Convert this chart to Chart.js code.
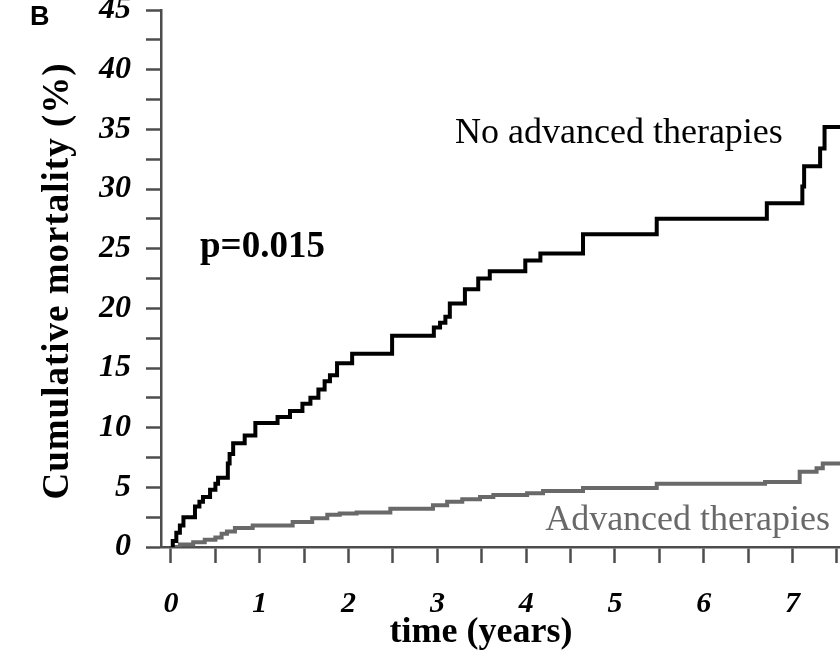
<!DOCTYPE html>
<html>
<head>
<meta charset="utf-8">
<script src="https://cdn.jsdelivr.net/npm/chart.js@4.4.1/dist/chart.umd.min.js"></script>
<style>
  html, body { margin: 0; padding: 0; background: #ffffff; }
  #wrap { width: 840px; height: 667px; }
</style>
</head>
<body>
<div id="wrap"><canvas id="c" width="840" height="667"></canvas></div>
<script>
// ---- Data ----
const noAdvTime = [0, 0.02, 0.06, 0.10, 0.14, 0.27, 0.32, 0.36, 0.44, 0.50, 0.53, 0.64, 0.66, 0.70, 0.83, 0.95,
  1.20, 1.34, 1.48, 1.57, 1.66, 1.73, 1.79, 1.87, 2.04, 2.49, 2.96, 3.03, 3.09, 3.14, 3.31, 3.46, 3.59,
  3.99, 4.16, 4.64, 5.47, 6.71, 7.11, 7.13, 7.31, 7.36, 7.60];
const noAdvMortality = [0, 0.5, 1.2, 1.8, 2.5, 3.4, 3.8, 4.2, 4.8, 5.3, 5.8, 7.0, 7.8, 8.7, 9.35, 10.4,
  10.9, 11.4, 12.0, 12.5, 13.2, 13.9, 14.4, 15.4, 16.2, 17.7, 18.4, 18.8, 19.3, 20.4, 21.6, 22.5, 23.1,
  24.0, 24.6, 26.2, 27.5, 28.8, 30.2, 31.9, 33.4, 35.2, 35.2];

const advTime = [0, 0.10, 0.25, 0.38, 0.50, 0.57, 0.63, 0.72, 0.92, 1.37, 1.59, 1.76, 1.90, 2.09, 2.47,
  2.95, 3.11, 3.28, 3.48, 3.63, 4.01, 4.19, 4.64, 5.47, 6.69, 7.08, 7.27, 7.34, 7.60];
const advMortality = [0, 0.2, 0.4, 0.6, 0.8, 1.1, 1.3, 1.6, 1.8, 2.1, 2.4, 2.7, 2.8, 2.9, 3.2,
  3.5, 3.8, 4.0, 4.2, 4.35, 4.5, 4.7, 4.95, 5.3, 5.45, 6.3, 6.6, 7.0, 7.0];

const seriesNames = ['No advanced therapies', 'Advanced therapies'];

const xTickValues = [0, 0.5, 1, 1.5, 2, 2.5, 3, 3.5, 4, 4.5, 5, 5.5, 6, 6.5, 7, 7.5];
const xTickLabels = ['0', '1', '2', '3', '4', '5', '6', '7'];
const yTickValues = [0, 2.5, 5, 7.5, 10, 12.5, 15, 17.5, 20, 22.5, 25, 27.5, 30, 32.5, 35, 37.5, 40, 42.5, 45];
const yTickLabels = ['0', '5', '10', '15', '20', '25', '30', '35', '40', '45'];

const xTitle = 'time (years)';
const yTitle = 'Cumulative mortality (%)';
const panelLetter = 'B';
const pValueText = 'p=0.015';

// ---- Build chart ----
const SERIF = "'Liberation Serif', 'Times New Roman', serif";
const AXIS_COLOR = '#4d4d4d';
const GRAY = '#696969';

function toPoints(xs, ys) { return xs.map((x, i) => ({ x: x, y: ys[i] })); }
function zeroPadding(scale) {
  scale.paddingTop = 0; scale.paddingBottom = 0; scale.paddingLeft = 0; scale.paddingRight = 0;
}

const textPlugin = {
  id: 'panelTexts',
  afterDraw(chart) {
    const ctx = chart.ctx;
    ctx.save();
    ctx.textBaseline = 'alphabetic';
    // Panel letter
    ctx.fillStyle = '#000';
    ctx.font = "bold 27px 'Liberation Sans', Arial, sans-serif";
    ctx.textAlign = 'left';
    ctx.fillText(panelLetter, 30, 25);
    // Y axis title
    ctx.save();
    ctx.translate(68, 281);
    ctx.rotate(-Math.PI / 2);
    ctx.font = 'bold 37px ' + SERIF;
    ctx.textAlign = 'center';
    try { ctx.letterSpacing = '1px'; } catch (e) {}
    ctx.fillText(yTitle, 0, 0);
    ctx.restore();
    // X axis title
    ctx.font = 'bold 36px ' + SERIF;
    ctx.textAlign = 'center';
    ctx.fillText(xTitle, 481, 642);
    // p-value
    ctx.font = 'bold 37px ' + SERIF;
    ctx.textAlign = 'left';
    ctx.fillText(pValueText, 200, 257);
    // Series labels
    ctx.font = '36px ' + SERIF;
    ctx.fillStyle = '#000';
    ctx.fillText(seriesNames[0], 455, 143);
    ctx.fillStyle = GRAY;
    ctx.textAlign = 'right';
    ctx.fillText(seriesNames[1], 830, 530);
    ctx.restore();
  }
};

new Chart(document.getElementById('c'), {
  type: 'line',
  data: {
    datasets: [
      {
        label: seriesNames[0],
        data: toPoints(noAdvTime, noAdvMortality),
        borderColor: '#000000',
        borderWidth: 4,
        stepped: true,
        pointRadius: 0,
        fill: false,
        borderJoinStyle: 'miter'
      },
      {
        label: seriesNames[1],
        data: toPoints(advTime, advMortality),
        borderColor: GRAY,
        borderWidth: 4,
        stepped: true,
        pointRadius: 0,
        fill: false,
        borderJoinStyle: 'miter'
      }
    ]
  },
  options: {
    responsive: false,
    animation: false,
    devicePixelRatio: 1,
    layout: { autoPadding: false, padding: { top: 10, right: 0, bottom: 0, left: 0 } },
    plugins: { legend: { display: false }, tooltip: { enabled: false }, title: { display: false } },
    scales: {
      x: {
        type: 'linear',
        min: -0.1126,
        max: 7.534,
        afterFit(scale) { scale.height = 120; zeroPadding(scale); },
        afterBuildTicks(scale) { scale.ticks = xTickValues.map(v => ({ value: v })); },
        border: { display: true, color: AXIS_COLOR, width: 2.5 },
        grid: { drawOnChartArea: false, drawTicks: true, tickLength: 16, tickColor: AXIS_COLOR, tickWidth: 2.5 },
        ticks: {
          autoSkip: false,
          maxRotation: 0,
          padding: 23,
          color: '#000',
          font: { family: SERIF, size: 30, weight: 'bold', style: 'italic' },
          callback: (value) => Number.isInteger(value) ? xTickLabels[value] : ''
        },
        title: { display: false }
      },
      y: {
        type: 'linear',
        min: 0,
        max: 45,
        afterFit(scale) { scale.width = 161; zeroPadding(scale); },
        afterBuildTicks(scale) { scale.ticks = yTickValues.map(v => ({ value: v })); },
        border: { display: true, color: AXIS_COLOR, width: 2.5 },
        grid: { drawOnChartArea: false, drawTicks: true, tickLength: 15, tickColor: AXIS_COLOR, tickWidth: 2.5 },
        ticks: {
          autoSkip: false,
          padding: 15,
          color: '#000',
          font: { family: SERIF, size: 32, weight: 'bold', style: 'italic' },
          callback: (value) => (value % 5 === 0) ? yTickLabels[value / 5] : ''
        },
        title: { display: false }
      }
    }
  },
  plugins: [textPlugin]
});
</script>
</body>
</html>
